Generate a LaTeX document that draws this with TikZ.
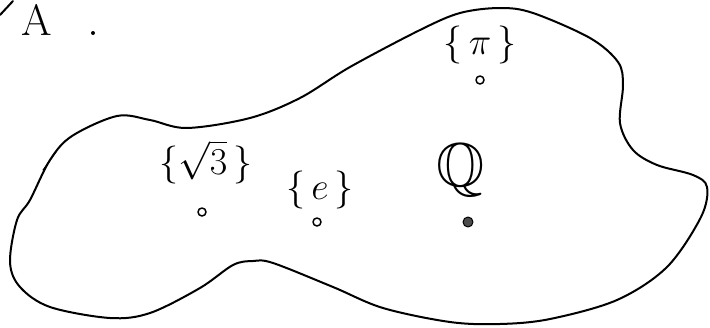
\documentclass[tikz,border=0pt]{standalone}
\usepackage{fix-cm}
\usepackage{amssymb}
\begin{document}
\begin{tikzpicture}[x=1pt,y=-1pt,line width=2pt,line cap=round,line join=round,
  opendot/.style={circle,draw,line width=1.5pt,inner sep=0pt,minimum size=8pt},
  fulldot/.style={circle,fill=black!70,draw=black,line width=1pt,inner sep=0pt,minimum size=10pt},
  setlabel/.style={inner sep=0pt,font=\fontsize{38}{38}\selectfont}]
\useasboundingbox (0,0) rectangle (710,327);
% outline of set A
\draw plot[smooth cycle,tension=0.55] coordinates {
 (117,116) (150,120) (187,128) (250,118) (300,98) (350,67) (420,30) (460,13)
 (500,8) (533,13) (590,38) (618,62) (623,85) (620,123) (633,150) (657,165)
 (693,175) (707,187) (701,217) (667,267) (617,300) (550,319) (500,324)
 (450,322) (383,308) (333,287) (273,263) (253,261) (233,265) (200,288)
 (150,313) (110,318) (50,307) (20,287) (10,262) (17,220) (30,200) (50,160) (72,136)};
% small stray strokes
\draw (0,15) -- (13,1);
\draw[line width=1pt] (43,170) -- (56,152);
% labels
\node[inner sep=0pt,font=\fontsize{44}{44}\selectfont] (A) at (37,20) {A};
\node[circle,fill,inner sep=0pt,minimum size=4pt] (mark) at (93,33) {};
\node[setlabel] (pi) at (480,45) {$\{\,\pi\,\}$};
\node[opendot] (ppi) at (480,80) {};
\node[setlabel] (sq) at (206,162) {$\{\sqrt{3}\,\}$};
\node[opendot] (psq) at (202,212) {};
\node[setlabel] (e) at (320,190) {$\{\,e\,\}$};
\node[opendot] (pe) at (317,222) {};
\node[inner sep=0pt,font=\fontsize{62}{62}\selectfont] (Q) at (461,170) {$\mathbb{Q}$};
\node[fulldot] (pQ) at (468,222) {};
\end{tikzpicture}
\end{document}
